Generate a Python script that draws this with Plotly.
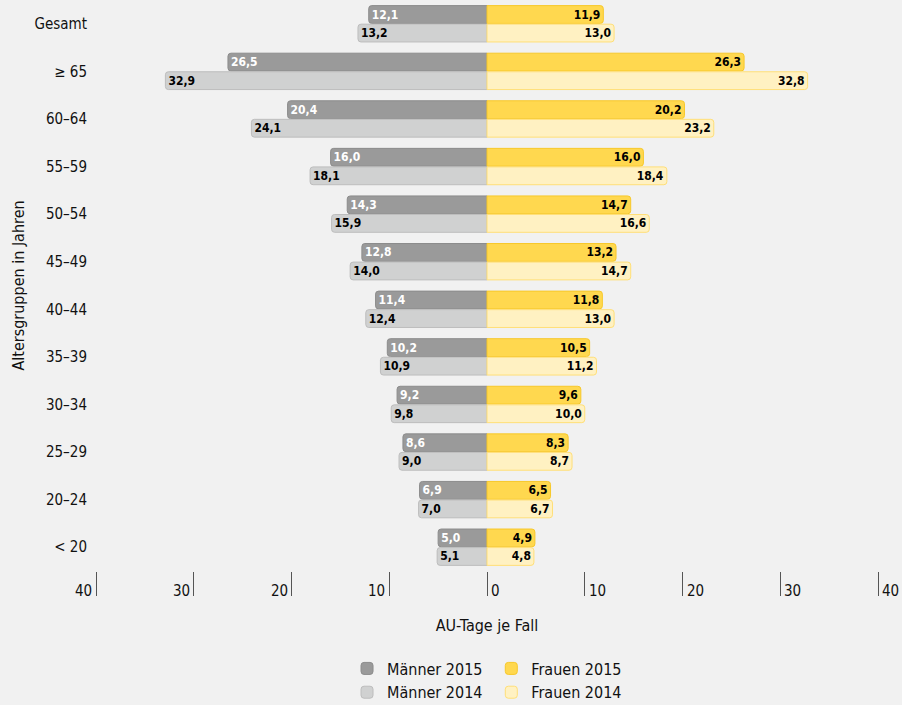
import plotly.graph_objects as go

categories = ["Gesamt", "≥ 65", "60–64", "55–59", "50–54", "45–49", "40–44",
              "35–39", "30–34", "25–29", "20–24", "< 20"]
maenner_2015 = [12.1, 26.5, 20.4, 16.0, 14.3, 12.8, 11.4, 10.2, 9.2, 8.6, 6.9, 5.0]
maenner_2014 = [13.2, 32.9, 24.1, 18.1, 15.9, 14.0, 12.4, 10.9, 9.8, 9.0, 7.0, 5.1]
frauen_2015 = [11.9, 26.3, 20.2, 16.0, 14.7, 13.2, 11.8, 10.5, 9.6, 8.3, 6.5, 4.9]
frauen_2014 = [13.0, 32.8, 23.2, 18.4, 16.6, 14.7, 13.0, 11.2, 10.0, 8.7, 6.7, 4.8]
tick_values = [-40, -30, -20, -10, 0, 10, 20, 30, 40]

FONT = "DejaVu Sans Condensed, DejaVu Sans, sans-serif"


def fmt(v):
    return f"{v:.1f}".replace(".", ",")


fig = go.Figure()

series = [
    ("Männer 2015", maenner_2015, -1, "2015", "#9a9a9a", "#8c8c8c", "white", "legend"),
    ("Frauen 2015", frauen_2015, 1, "2015", "#ffd84f", "#f7c82a", "black", "legend2"),
    ("Männer 2014", maenner_2014, -1, "2014", "#d0d1d1", "#bdbdbd", "black", "legend"),
    ("Frauen 2014", frauen_2014, 1, "2014", "#fff1c2", "#ffdf78", "black", "legend2"),
]

for name, vals, sign, grp, fill, line, tcol, leg in series:
    fig.add_trace(go.Bar(
        name=name,
        y=categories,
        x=[sign * v for v in vals],
        orientation="h",
        offsetgroup=grp,
        marker=dict(color=fill, line=dict(color=line, width=1)),
        text=[fmt(v) for v in vals],
        textposition="inside",
        insidetextanchor="end",
        textangle=0,
        constraintext="none",
        textfont=dict(family=FONT, size=12, color=tcol, weight="bold"),
        legend=leg,
        hoverinfo="skip",
    ))

for tv in tick_values:
    fig.add_annotation(
        x=tv, y=0, xref="x", yref="paper", yshift=-20,
        text=str(abs(tv)), showarrow=False,
        xanchor="right" if tv < 0 else "left",
        xshift=-2 if tv < 0 else 2,
        yanchor="middle",
        font=dict(family=FONT, size=15, color="#111111"),
    )

fig.update_layout(
    width=902, height=705,
    paper_bgcolor="#f1f1f1", plot_bgcolor="#f1f1f1",
    margin=dict(l=96, r=24, t=0, b=134, autoexpand=False),
    barmode="group",
    bargap=0.22,
    bargroupgap=0.04,
    barcornerradius=3,
    font=dict(family=FONT, size=15, color="#111111"),
    xaxis=dict(
        range=[-40, 40],
        tickvals=tick_values,
        showticklabels=False,
        ticks="outside", ticklen=24, tickwidth=1, tickcolor="#555555",
        showgrid=False, zeroline=False, showline=False,
        title=dict(text="AU-Tage je Fall", standoff=24,
                   font=dict(family=FONT, size=16)),
        fixedrange=True,
    ),
    yaxis=dict(
        autorange="reversed",
        showgrid=False, zeroline=False, showline=False,
        ticks="", ticklabelstandoff=8,
        tickfont=dict(family=FONT, size=15),
        title=dict(text="Altersgruppen in Jahren", standoff=5,
                   font=dict(family=FONT, size=16)),
        fixedrange=True,
    ),
    legend=dict(
        orientation="v", x=0.321, y=-0.141, xanchor="left", yanchor="top",
        font=dict(family=FONT, size=16), bgcolor="rgba(0,0,0,0)",
        tracegroupgap=0, itemwidth=30,
    ),
    legend2=dict(
        orientation="v", x=0.5055, y=-0.141, xanchor="left", yanchor="top",
        font=dict(family=FONT, size=16), bgcolor="rgba(0,0,0,0)",
        tracegroupgap=0, itemwidth=30,
    ),
    showlegend=True,
)

fig.write_html(
    "out.html",
    config={"displayModeBar": False},
    post_script="document.body.style.margin='0';document.body.style.background='#f1f1f1';window.dispatchEvent(new Event('resize'));",
)
